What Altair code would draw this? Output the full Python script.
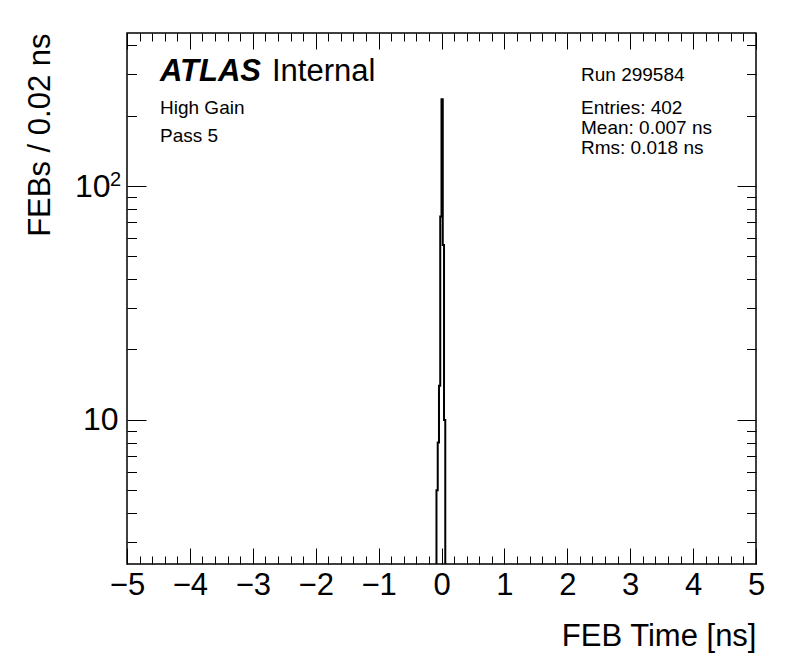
import altair as alt
import pandas as pd

# ---- data ----
bin_low = [-0.08, -0.06, -0.04, -0.02, 0.00, 0.02, 0.04]
bin_width = 0.02
counts = [5, 8, 14, 74, 235, 56, 10]

x_domain = [-5, 5]
y_domain = [2.42, 451]
x_major = [-5, -4, -3, -2, -1, 0, 1, 2, 3, 4, 5]
x_ticks = [round(-5 + 0.2 * i, 1) for i in range(51)]
y_major = [10, 100]
y_ticks = [3, 4, 5, 6, 7, 8, 9, 10, 20, 30, 40, 50, 60, 70, 80, 90, 100, 200, 300, 400]

x_title = "FEB Time [ns]"
y_title = "FEBs / 0.02 ns"
left_texts = ["High Gain", "Pass 5"]
right_texts = ["Entries: 402", "Mean: 0.007 ns", "Rms: 0.018 ns"]
run_text = "Run 299584"

FONT = "Liberation Sans"
W, H = 629, 531

# step outline of the histogram
rows = [{"t": bin_low[0], "n": y_domain[0]}]
for lo, c in zip(bin_low, counts):
    rows.append({"t": lo, "n": c})
rows.append({"t": bin_low[-1] + bin_width, "n": y_domain[0]})
hist = pd.DataFrame(rows)

is_xmaj = "abs(datum.value - round(datum.value)) < 0.001"
is_ymaj = "(datum.value == 10 || datum.value == 100)"

xscale = alt.Scale(domain=x_domain, nice=False, zero=False)
yscale = alt.Scale(type="log", domain=y_domain, nice=False)

x_bottom = alt.Axis(
    orient="bottom", values=x_ticks, domain=False, grid=False,
    tickSize=alt.ExprRef(expr=f"{is_xmaj} ? -16 : -8"),
    labelExpr=f"{is_xmaj} ? format(datum.value, 'd') : ''",
    labelPadding=22, labelFontSize=31, labelFlush=False, labelOverlap=False,
    title=x_title, titleX=W, titleY=72, titleAlign="right", titleBaseline="middle",
    titleFontSize=31, titleFontWeight="normal",
)
y_left = alt.Axis(
    orient="left", values=y_ticks, domain=False, grid=False,
    tickSize=alt.ExprRef(expr=f"{is_ymaj} ? -19 : -9.5"),
    labelExpr=f"{is_ymaj} ? '10' : ''",
    labelPadding=alt.ExprRef(expr="datum.value == 100 ? 36 : 28"),
    labelFontSize=32, labelFlush=False, labelOverlap=False,
    title=y_title, titleX=-87, titleY=0, titleAngle=270, titleAlign="right",
    titleBaseline="middle", titleFontSize=31, titleFontWeight="normal",
)
x_top = alt.Axis(
    orient="top", values=x_ticks, domain=False, grid=False, labels=False, title=None,
    tickSize=alt.ExprRef(expr=f"{is_xmaj} ? -16 : -8"),
)
y_right = alt.Axis(
    orient="right", values=y_ticks, domain=False, grid=False, labels=False, title=None,
    tickSize=alt.ExprRef(expr=f"{is_ymaj} ? -19 : -9.5"),
)

line = alt.Chart(hist).mark_line(
    interpolate="step-after", color="black", strokeWidth=2, clip=True
).encode(
    x=alt.X("t:Q", scale=xscale, axis=x_bottom),
    y=alt.Y("n:Q", scale=yscale, axis=y_left),
)
mirror = alt.Chart(hist).mark_line(opacity=0, clip=True).encode(
    x=alt.X("t:Q", scale=xscale, axis=x_top),
    y=alt.Y("n:Q", scale=yscale, axis=y_right),
)

# superscript exponent of the 10^2 label, placed through the y scale
exponent = alt.Chart(pd.DataFrame({"k": [0]})).mark_text(
    align="left", baseline="alphabetic", font=FONT, fontSize=20, color="black",
).encode(
    x=alt.value(-17),
    y=alt.datum(y_major[1], scale=yscale, axis=None),
    text=alt.value("2"),
)


def label(text, x, y, size=19, weight="normal", style="normal"):
    return alt.Chart(pd.DataFrame({"k": [0]})).mark_text(
        align="left", baseline="alphabetic", font=FONT, fontSize=size,
        fontWeight=weight, fontStyle=style, color="black",
    ).encode(x=alt.value(x), y=alt.value(y), text=alt.value(text))


texts = [
    label("ATLAS", 33, 48, size=31, weight="bold", style="italic"),
    label("Internal", 145, 48, size=31),
    label(left_texts[0], 33, 81),
    label(left_texts[1], 33, 109),
    label(run_text, 454, 48),
    label(right_texts[0], 454, 81),
    label(right_texts[1], 454, 101),
    label(right_texts[2], 454, 121),
]

chart = alt.layer(line, mirror, exponent, *texts).resolve_axis(
    x="independent", y="independent"
).properties(
    width=W, height=H,
    autosize=alt.AutoSizeParams(type="none"),
    padding={"left": 119, "top": 25, "right": 32, "bottom": 100},
).configure_view(
    stroke="black", strokeWidth=1.5
).configure_axis(
    tickColor="black", tickWidth=1, labelColor="black", titleColor="black",
    labelFont=FONT, titleFont=FONT,
)

chart.save("out.html", embed_options={"renderer": "svg", "actions": False})
